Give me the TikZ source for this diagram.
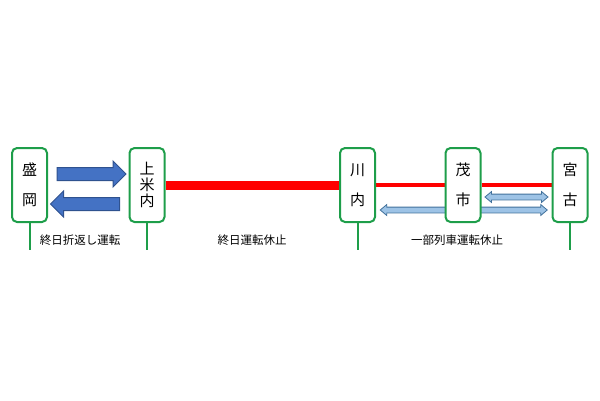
\documentclass[tikz,border=0pt]{standalone}
\usepackage{fontspec}
\newfontfamily\jpfont{Noto Sans CJK JP}
\usepackage{tikz}
\usetikzlibrary{shapes.arrows,backgrounds}
\definecolor{stngreen}{HTML}{1E9E4A}
\definecolor{runblue}{HTML}{4472C4}
\definecolor{runedge}{HTML}{2F528F}
\definecolor{partblue}{HTML}{9DC3E6}
\definecolor{partedge}{HTML}{41719C}
\definecolor{stopred}{HTML}{FF0000}

\begin{document}
\begin{tikzpicture}[x=1pt,y=-1pt]
		\tikzset{Station/.style = {rectangle, rounded corners=5pt, draw=stngreen, line width=2pt, fill=white,
				minimum width=35pt, minimum height=74pt, inner sep=0pt, align=center,
				font=\jpfont\fontsize{15}{16}\selectfont},
			Stem/.style = {draw=stngreen, line width=2pt},
			Note/.style = {font=\jpfont\fontsize{11.5}{12}\selectfont, inner sep=0pt},
			BigArrow/.style = {single arrow, draw=runedge, fill=runblue, line width=1pt, inner sep=6pt,
				single arrow head extend=6.5pt, minimum height=69pt},
			ThinArrow/.style = {double arrow, draw=partedge, fill=partblue, line width=0.8pt, inner sep=2.5pt,
				double arrow head extend=2.5pt, double arrow tip angle=80}}
		\useasboundingbox (0,0) rectangle (600,400);
		\node[Station]    (M)  at (29.5,185) {盛\\[14pt]岡};
		\node[Station]    (K)  at (147,185)  {上\\米\\内};
		\node[Station]    (KW) at (357.5,185) {川\\[14pt]内};
		\node[Station]    (MO) at (463,185)  {茂\\[14pt]市};
		\node[Station]    (MY) at (570,185)  {宮\\[14pt]古};
		\foreach \s in {M,K,KW,MY}
			\draw [Stem] (\s.south) -- ++(0,27);
		\begin{scope}[on background layer]
			\draw [stopred, line width=9pt] (K.east) -- (KW.west);
			\draw [stopred, line width=4pt] (KW.east) -- (MO.west);
			\draw [stopred, line width=4pt] (MO.east) -- (MY.west);
			\path (KW) -- node[ThinArrow, yshift=-25pt, minimum height=167pt] (P2) {} (MY);
		\end{scope}
		\path (M) -- node[BigArrow, yshift=11pt] (Fwd) {} (K);
		\path (M) -- node[BigArrow, yshift=-19pt, shape border rotate=180] (Back) {} (K);
		\path (MO) -- node[ThinArrow, yshift=-12pt, minimum height=63pt] (P1) {} (MY);
		\node[Note]    (L1) at (80,240)  {終日折返し運転};
		\node[Note]    (L2) at (252,240) {終日運転休止};
		\node[Note]    (L3) at (457,240) {一部列車運転休止};
	\end{tikzpicture}
\end{document}
